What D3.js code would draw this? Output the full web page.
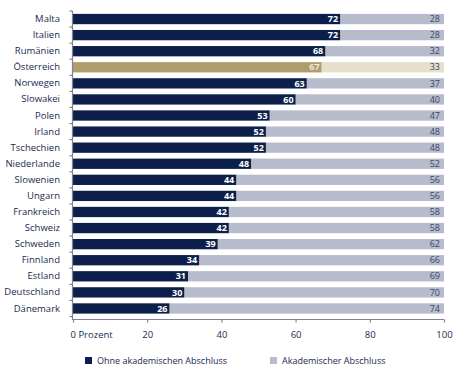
<!DOCTYPE html>
<html><head><meta charset="utf-8">
<script src="https://cdn.jsdelivr.net/npm/d3@7"></script>
<style>
body{margin:0;background:#fff;}
svg{display:block;font-family:"Open Sans","Noto Sans",sans-serif;}
</style></head>
<body><svg id="c" width="465" height="385"></svg>
<script>
const countries = ["Malta","Italien","Rumänien","Österreich","Norwegen","Slowakei","Polen","Irland","Tschechien","Niederlande","Slowenien","Ungarn","Frankreich","Schweiz","Schweden","Finnland","Estland","Deutschland","Dänemark"];
const ohne = [72,72,68,67,63,60,53,52,52,48,44,44,42,42,39,34,31,30,26];
const akad = [28,28,32,33,37,40,47,48,48,52,56,56,58,58,62,66,69,70,74];
const xTicks = [0,20,40,60,80,100];
const xTickLabels = ["0 Prozent","20","40","60","80","100"];
const seriesNames = ["Ohne akademischen Abschluss","Akademischer Abschluss"];
const highlight = "Österreich";

const dark = "#0c1f4a", light = "#b6bccb", gold = "#b19d6c", goldLight = "#e5dfcb";
const textCol = "#1b2a52", axisCol = "#7d8496";

const svg = d3.select("#c");
const x = d3.scaleLinear().domain([0,100]).range([73,444]);
const y = d3.scaleBand().domain(countries).range([11,316.5]).paddingInner(0.36).paddingOuter(0.18);

const rows = countries.map((c,i)=>({c, a:ohne[i], b:akad[i]}));
const g = svg.append("g");
// light segment (stacked, capped at 100 %)
g.selectAll("rect.b").data(rows).join("rect")
  .attr("x", d=>x(d.a)).attr("y", d=>y(d.c))
  .attr("width", d=>x(Math.min(100,d.a+d.b))-x(d.a)).attr("height", y.bandwidth())
  .attr("fill", d=>d.c===highlight?goldLight:light);
g.selectAll("rect.a").data(rows).join("rect")
  .attr("x", x(0)).attr("y", d=>y(d.c))
  .attr("width", d=>x(d.a)-x(0)).attr("height", y.bandwidth())
  .attr("fill", d=>d.c===highlight?gold:dark);

// value labels
g.selectAll("text.a").data(rows).join("text")
  .attr("x", d=>x(d.a)-2).attr("y", d=>y(d.c)+y.bandwidth()/2)
  .attr("dy","0.35em").attr("text-anchor","end")
  .attr("font-size",9).attr("font-weight","bold")
  .attr("fill", d=>d.c===highlight?"#efe9da":"#fff").text(d=>d.a);
g.selectAll("text.b").data(rows).join("text")
  .attr("x", x(100)-4).attr("y", d=>y(d.c)+y.bandwidth()/2)
  .attr("dy","0.35em").attr("text-anchor","end")
  .attr("font-size",9).attr("fill","#3d4766").text(d=>d.b);

// y axis
const yAxis = d3.axisLeft(y).tickSize(0).tickPadding(12);
const ya = svg.append("g").attr("transform",`translate(${x(0)-1},0)`).call(yAxis);
ya.select(".domain").remove();
ya.selectAll("text").attr("font-size",9.5).attr("fill",textCol).attr("font-family","'Open Sans','Noto Sans',sans-serif");
const step = y.step();
const boundaries = countries.map(c=>y(c)-step*y.paddingInner()/2).concat([y(countries[countries.length-1])+y.bandwidth()+step*y.paddingInner()/2]);
svg.append("line").attr("x1",x(0)-0.5).attr("x2",x(0)-0.5).attr("y1",boundaries[0]).attr("y2",320).attr("stroke",axisCol).attr("stroke-width",1.2);
svg.selectAll("line.yt").data(boundaries).join("line")
  .attr("x1",x(0)-3.5).attr("x2",x(0)-0.5).attr("y1",d=>d).attr("y2",d=>d)
  .attr("stroke",axisCol).attr("stroke-width",1.2);

// x axis
const xAxis = d3.axisBottom(x).tickValues(xTicks).tickSize(3).tickPadding(9).tickFormat((d,i)=>xTickLabels[i]);
const xa = svg.append("g").attr("transform","translate(0,319.5)").call(xAxis);
xa.select(".domain").attr("stroke",axisCol).attr("stroke-width",1.2).attr("d",`M${x(0)-0.5},0H${x(100)}`);
xa.selectAll(".tick line").attr("stroke",axisCol).attr("stroke-width",1.2);
xa.selectAll("text").attr("font-size",9.5).attr("fill",textCol).attr("font-family","'Open Sans','Noto Sans',sans-serif");
xa.selectAll(".tick text").filter((d,i)=>i===0).attr("text-anchor","start").attr("x",-3);

// legend
const leg = svg.append("g");
const legItems = [{n:seriesNames[0],c:dark,x:85},{n:seriesNames[1],c:light,x:270}];
legItems.forEach(it=>{
  leg.append("rect").attr("x",it.x).attr("y",357).attr("width",7).attr("height",7).attr("fill",it.c);
  leg.append("text").attr("x",it.x+12).attr("y",360.5).attr("dy","0.35em").attr("font-size",9).attr("fill",textCol).text(it.n);
});
</script></body></html>
